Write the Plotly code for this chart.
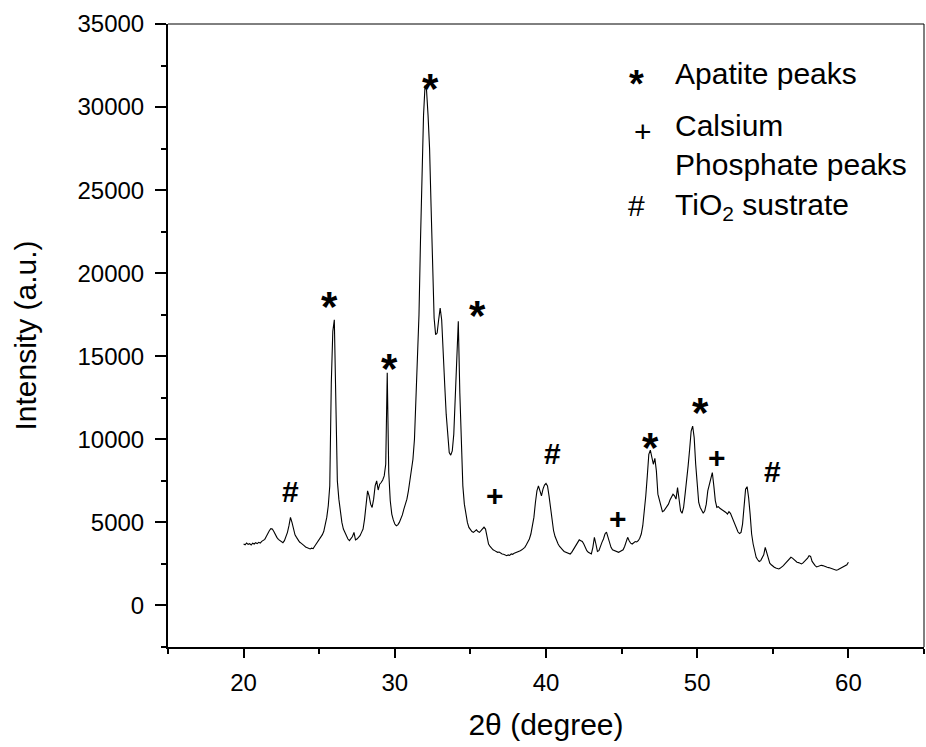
import plotly.graph_objects as go
import numpy as np

# 2-theta grid (0.1 degree steps, 20..60) and intensity
two_theta = np.round(np.arange(20.0, 60.0001, 0.1), 1)
intensity = [
    3700, 3650, 3760, 3680, 3720, 3640, 3750, 3700, 3780, 3720,   # 20.0-20.9
    3800, 3760, 3860, 3900, 3980, 4150, 4350, 4500, 4620, 4600,   # 21.0-21.9
    4450, 4250, 4100, 3980, 3900, 3820, 3780, 3900, 4100, 4400,   # 22.0-22.9
    4800, 5300, 5000, 4500, 4250, 4100, 3950, 3820, 3750, 3650,   # 23.0-23.9
    3600, 3520, 3480, 3430, 3400, 3450, 3420, 3560, 3700, 3800,   # 24.0-24.9
    3950, 4100, 4250, 4450, 4800, 5300, 6000, 7200, 13400, 16500, # 25.0-25.9
    17200, 12500, 7500, 6400, 5500, 5000, 4600, 4400, 4150, 4000, # 26.0-26.9
    3900, 4000, 4150, 4400, 3950, 4000, 4100, 4200, 4400, 4600,   # 27.0-27.9
    5200, 6300, 6900, 6600, 6100, 5900, 6400, 7200, 7500, 6950,   # 28.0-28.9
    7300, 7400, 7550, 7800, 8500, 14000, 8000, 6300, 5500, 5150,  # 29.0-29.9
    4900, 4800, 4850, 5000, 5200, 5450, 5800, 6100, 6400, 6900,   # 30.0-30.9
    7500, 8100, 8800, 10000, 12200, 14500, 17500, 22000, 26500, 29500,  # 31.0-31.9
    31300, 31000, 29500, 27500, 24000, 20000, 17300, 16300, 16400, 17200,  # 32.0-32.9
    17900, 17200, 15600, 13300, 11500, 10000, 9200, 9050, 9300, 10300,  # 33.0-33.9
    13000, 15500, 17100, 12800, 9200, 7200, 6100, 5400, 5000, 4700,   # 34.0-34.9
    4550, 4450, 4400, 4500, 4550, 4450, 4400, 4500, 4650, 4720,   # 35.0-35.9
    4600, 4100, 3700, 3550, 3420, 3350, 3300, 3250, 3200, 3220,   # 36.0-36.9
    3150, 3100, 3080, 3030, 3000, 3040, 3010, 3100, 3080, 3150,   # 37.0-37.9
    3180, 3200, 3230, 3300, 3350, 3420, 3500, 3650, 3800, 4000,   # 38.0-38.9
    4300, 4700, 5300, 6200, 6900, 7200, 6800, 6600, 7000, 7250,   # 39.0-39.9
    7350, 7200, 6600, 5800, 5000, 4500, 4150, 3900, 3700, 3550,   # 40.0-40.9
    3420, 3350, 3250, 3200, 3150, 3120, 3100, 3200, 3350, 3550,   # 41.0-41.9
    3700, 3850, 3950, 3900, 3850, 3700, 3450, 3300, 3200, 3150,   # 42.0-42.9
    3100, 3500, 4100, 3700, 3250, 3300, 3600, 3800, 4000, 4300,   # 43.0-43.9
    4420, 4100, 3750, 3500, 3350, 3300, 3250, 3220, 3200, 3250,   # 44.0-44.9
    3300, 3350, 3550, 3850, 4100, 3900, 3750, 3700, 3800, 3850,   # 45.0-45.9
    3820, 3900, 4050, 4300, 4800, 5600, 6600, 7800, 9100, 9350,   # 46.0-46.9
    9000, 8500, 8850, 8100, 6700, 6300, 5900, 5650, 5700, 5850,   # 47.0-47.9
    6000, 6100, 6350, 6550, 6700, 6600, 6400, 7100, 6300, 5700,   # 48.0-48.9
    5550, 5900, 6700, 7400, 8400, 9400, 10500, 10800, 10100, 8500, # 49.0-49.9
    7000, 6200, 5900, 5700, 5550, 5700, 6100, 6900, 7300, 7600,   # 50.0-50.9
    8000, 7200, 6300, 5900, 5950, 5850, 5800, 5750, 5650, 5600,   # 51.0-51.9
    5500, 5650, 5550, 5300, 5100, 4900, 4650, 4420, 4330, 4400,   # 52.0-52.9
    4900, 5800, 7000, 7150, 6500, 5500, 4300, 3700, 3200, 2900,   # 53.0-53.9
    2750, 2650, 2700, 2850, 3050, 3500, 3200, 2750, 2550, 2450,   # 54.0-54.9
    2350, 2300, 2250, 2220, 2200, 2250, 2300, 2400, 2500, 2600,   # 55.0-55.9
    2700, 2800, 2900, 2850, 2750, 2700, 2600, 2580, 2520, 2500,   # 56.0-56.9
    2560, 2650, 2750, 2850, 3000, 2950, 2650, 2500, 2400, 2320,   # 57.0-57.9
    2350, 2380, 2420, 2400, 2350, 2330, 2300, 2280, 2250, 2220,   # 58.0-58.9
    2180, 2150, 2120, 2150, 2200, 2250, 2300, 2330, 2350, 2450,   # 59.0-59.9
    2600,                                                          # 60.0
]

# peak markers: symbol, 2-theta position, intensity position
mark_symbols = ["#", "*", "*", "*", "*", "+", "#", "+", "*", "*", "+", "#"]
mark_x = [23.13, 25.71, 29.68, 32.39, 35.44, 36.63, 40.40, 44.76, 46.88, 50.19, 51.31, 54.95]
mark_y = [6832, 18629, 14897, 31810, 18087, 6531, 9119, 5146, 10142, 12249, 8819, 8036]

# key (legend) entries
key_symbols = ["*", "+", "#"]
key_labels = ["Apatite peaks", "Calsium<br>Phosphate peaks", "TiO<sub>2</sub> sustrate"]
key_sym_x = [46.0, 46.4, 46.0]
key_text_x = 48.4
key_sym_y = [31990, 28440, 24087]
key_text_y = [32050, 27700, 24000]

x_ticks = [20, 30, 40, 50, 60]
y_ticks = [0, 5000, 10000, 15000, 20000, 25000, 30000, 35000]

FONT = "Liberation Sans, Arial, sans-serif"

fig = go.Figure()
fig.add_trace(go.Scatter(x=two_theta, y=intensity, mode="lines",
                         line=dict(color="black", width=1.1),
                         showlegend=False, hoverinfo="skip"))

def sym_style(s):
    if s == "*":
        return dict(size=42, yshift=-11, text="<b>*</b>")
    if s == "#":
        return dict(size=30, yshift=0, text="<b>#</b>")
    return dict(size=30, yshift=1, text="<b>+</b>")

for s, x, y in zip(mark_symbols, mark_x, mark_y):
    st = sym_style(s)
    fig.add_annotation(x=x, y=y, text=st["text"], showarrow=False,
                       xanchor="center", yanchor="middle", yshift=st["yshift"],
                       font=dict(family=FONT, size=st["size"], color="black"))

for s, x, y in zip(key_symbols, key_sym_x, key_sym_y):
    if s == "*":
        txt, size, ys = "<b>*</b>", 38, -10
    elif s == "+":
        txt, size, ys = "+", 30, 1
    else:
        txt, size, ys = "#", 30, 0
    fig.add_annotation(x=x, y=y, text=txt, showarrow=False,
                       xanchor="center", yanchor="middle", yshift=ys,
                       font=dict(family=FONT, size=size, color="black"))

for t, y in zip(key_labels, key_text_y):
    fig.add_annotation(x=key_text_x, y=y, text=t, showarrow=False, align="left",
                       xanchor="left", yanchor="middle",
                       font=dict(family=FONT, size=30, color="black"))

# thin top and right frame lines
fig.add_shape(type="line", xref="paper", yref="paper", x0=0, x1=1, y0=1, y1=1,
              line=dict(color="black", width=1))
fig.add_shape(type="line", xref="paper", yref="paper", x0=1, x1=1, y0=0, y1=1,
              line=dict(color="black", width=1))

fig.update_layout(
    width=926, height=747,
    margin=dict(l=168, r=2, t=24, b=100),
    paper_bgcolor="white", plot_bgcolor="white",
    font=dict(family=FONT, color="black"),
    xaxis=dict(range=[15, 65], tickvals=x_ticks, showgrid=False, zeroline=False,
               showline=True, linewidth=2, linecolor="black",
               ticks="outside", ticklen=9, tickwidth=2, tickcolor="black",
               tickfont=dict(size=24), ticklabelstandoff=4,
               minor=dict(dtick=5, tick0=15, ticks="outside", ticklen=5, tickwidth=2, tickcolor="black"),
               title=dict(text="2θ (degree)", font=dict(size=30), standoff=19)),
    yaxis=dict(range=[-2500, 35000], tickvals=y_ticks, tickformat="d",
               showgrid=False, zeroline=False,
               showline=True, linewidth=2, linecolor="black",
               ticks="outside", ticklen=11, tickwidth=2, tickcolor="black",
               tickfont=dict(size=24), ticklabelstandoff=6,
               minor=dict(dtick=2500, tick0=-2500, ticks="outside", ticklen=5, tickwidth=2, tickcolor="black"),
               title=dict(text="Intensity (a.u.)", font=dict(size=30), standoff=32)),
)

fig.write_html("out.html")
